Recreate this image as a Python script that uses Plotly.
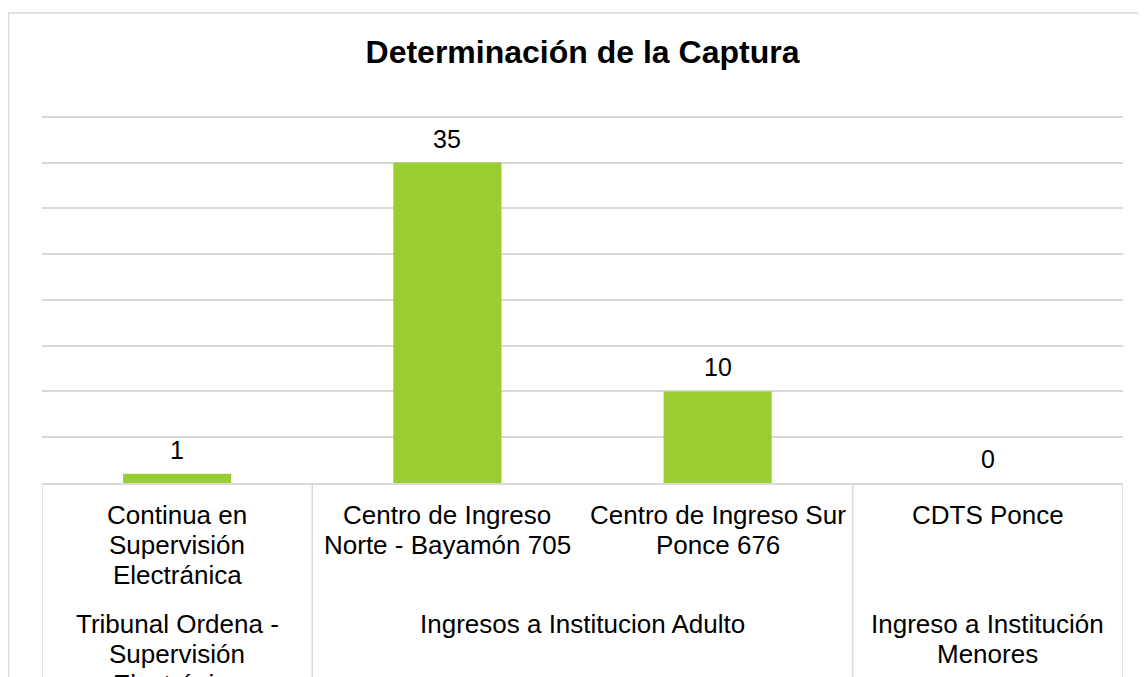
import plotly.graph_objects as go

# data
grupos = [["Tribunal Ordena -", "Supervisión", "Electrónica"],
          ["Ingresos a Institucion Adulto"],
          ["Ingreso a Institución", "Menores"]]
grupo_tamano = [1, 2, 1]
categorias = [["Continua en", "Supervisión", "Electránica"],
              ["Centro de Ingreso", "Norte - Bayamón 705"],
              ["Centro de Ingreso Sur", "Ponce 676"],
              ["CDTS Ponce"]]
valores = [1, 35, 10, 0]

VERDE = "#9ACD32"
GRIS = "#D9D9D9"
FUENTE = "Liberation Sans, Arial, sans-serif"
LINEA = 30  # px between label lines

xs = list(range(len(categorias)))

fig = go.Figure()
fig.add_trace(go.Bar(x=xs, y=valores, width=0.4, marker=dict(color=VERDE, line=dict(width=0)),
                     hoverinfo="y"))

# data labels above the bars
for x, v in zip(xs, valores):
    fig.add_annotation(x=x, y=v, xref="x", yref="y", text=str(v), showarrow=False,
                       yanchor="middle", yshift=24, font=dict(size=25, color="#000000", family=FUENTE))


def etiqueta(x, lineas, desde):
    for i, t in enumerate(lineas):
        fig.add_annotation(x=x, y=0, xref="x", yref="paper", text=t, showarrow=False,
                           yanchor="middle", yshift=-(desde + i * LINEA),
                           font=dict(size=26, color="#000000", family=FUENTE))


# inner category labels
for x, c in zip(xs, categorias):
    etiqueta(x, c, 32)

# outer group labels + dividers
inicio = -0.5
limites = [inicio]
for g, n in zip(grupos, grupo_tamano):
    etiqueta(inicio + n / 2, g, 141)
    inicio += n
    limites.append(inicio)

for b in limites:
    fig.add_shape(type="line", xref="x", yref="paper", x0=b, x1=b, y0=0, y1=-1,
                  line=dict(color=GRIS, width=1.5))

# outer chart frame
fig.add_shape(type="rect", xref="paper", yref="paper", x0=-0.031, x1=1.05, y0=-1, y1=1.277,
              line=dict(color=GRIS, width=1.5), fillcolor="rgba(0,0,0,0)", layer="below")

fig.update_layout(
    width=1138, height=669,
    margin=dict(l=34, r=23, t=107, b=194),
    paper_bgcolor="white", plot_bgcolor="white",
    showlegend=False,
    font=dict(family=FUENTE, color="#000000"),
    title=dict(text="<b>Determinación de la Captura</b>", x=0.5, xref="paper",
               y=1 - 44 / 669, yref="container", yanchor="middle",
               font=dict(size=32, color="#000000", family=FUENTE)),
    xaxis=dict(range=[-0.5, len(categorias) - 0.5], showticklabels=False, showgrid=False,
               zeroline=False, showline=True, linecolor=GRIS, linewidth=1.5, ticks=""),
    yaxis=dict(range=[0, 40.2], tickvals=[0, 5, 10, 15, 20, 25, 30, 35, 40], showticklabels=False,
               showgrid=True, gridcolor=GRIS, gridwidth=1.5, zeroline=False, showline=False, ticks=""),
)

fig.write_html("out.html")
